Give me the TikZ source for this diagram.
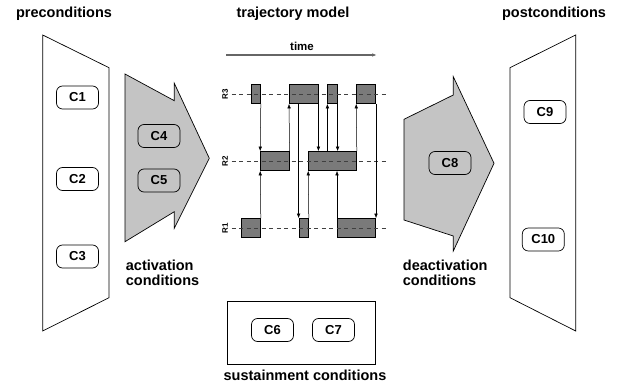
\documentclass[tikz,border=0pt]{standalone}
\usepackage{fontspec}
\setmainfont{Liberation Sans}
\usetikzlibrary{arrows.meta}

\tikzset{
  cond/.style={draw, rounded corners=6pt, minimum width=42pt, minimum height=23pt,
    inner sep=0pt, line width=0.7pt, font=\fontsize{13}{13}\selectfont\bfseries},
  bar/.style={draw, fill=black!52, line width=0.6pt, minimum height=19pt, inner sep=0pt},
  level/.style={dash pattern=on 4pt off 3.5pt, line width=0.7pt, black!75},
  heading/.style={font=\fontsize{14.5}{14.5}\selectfont\bfseries, inner sep=0pt},
  trans/.style={-{Latex[length=4.5pt,width=3.5pt]}, line width=0.5pt},
  stage/.style={draw, line width=0.7pt},
  gate/.style={draw, fill=black!23, line width=0.7pt},
}

\begin{document}
\begin{tikzpicture}[x=1pt,y=-1pt]
        \useasboundingbox (0,0) rectangle (618,387);

        % Headings
        \node[heading, anchor=base] (pre) at (64,17.5) {preconditions};
        \node[heading, anchor=base] (traj) at (293,17.5) {trajectory model};
        \node[heading, anchor=base] (post) at (554,17.5) {postconditions};

        % Pre- and postcondition panels
        \draw[stage] (42.7,35) -- (109,67.7) -- (109,297.7) -- (42.7,331) -- cycle;
        \draw[stage] (575.7,35) -- (510,67.7) -- (510,297.7) -- (575.7,331) -- cycle;

        % Activation and deactivation arrows
        \draw[gate] (125,74) -- (174.3,100.7) -- (174.3,83.3) -- (209.3,158.3)
          -- (174.3,228.3) -- (174.3,211.7) -- (125,241.7) -- cycle;
        \draw[gate] (404,119.3) -- (453.3,95) -- (453.3,76.7) -- (494,163.3)
          -- (453.3,251) -- (453.3,236) -- (404,220) -- cycle;

        \node[heading, anchor=north west, align=left] (act) at (125.7,260) {activation\\conditions};
        \node[heading, anchor=north west, align=left] (deact) at (402.7,260) {deactivation\\conditions};

        % Conditions
        \node[cond] (c1) at (77.5,97.5) {C1};
        \node[cond] (c2) at (77.5,179) {C2};
        \node[cond] (c3) at (77.5,256.5) {C3};
        \node[cond] (c4) at (159,136) {C4};
        \node[cond] (c5) at (159,180.5) {C5};
        \node[cond] (c8) at (450,163) {C8};
        \node[cond] (c9) at (545,112) {C9};
        \node[cond] (c10) at (543.3,239.5) {C10};

        % Sustainment box
        \draw[stage] (227.3,301.7) rectangle (375,364.3);
        \node[cond] (c6) at (272.5,330) {C6};
        \node[cond] (c7) at (333.5,330) {C7};
        \node[heading, anchor=base] (sust) at (305,380) {sustainment conditions};

        % Time axis
        \draw[-{Latex[length=5pt,width=3.5pt]}, line width=1.3pt, black!60] (226,55) -- (377,55);
        \node[font=\fontsize{11.5}{11.5}\selectfont\bfseries, inner sep=0pt] (time) at (302,46) {time};

        % Bars
        \node[bar, minimum width=9.6pt] (r3a) at (255.7,94) {};
        \node[bar, minimum width=28.8pt] (r3b) at (303.7,94) {};
        \node[bar, minimum width=9.6pt] (r3c) at (332.5,94) {};
        \node[bar, minimum width=19.2pt] (r3d) at (366.1,94) {};
        \node[bar, minimum width=28.8pt] (r2a) at (274.9,161) {};
        \node[bar, minimum width=48pt] (r2b) at (332.5,161) {};
        \node[bar, minimum width=19.2pt] (r1a) at (250.9,228) {};
        \node[bar, minimum width=9.6pt] (r1b) at (303.7,228) {};
        \node[bar, minimum width=38.4pt] (r1c) at (356.5,228) {};

        % Levels
        \node[rotate=90, font=\fontsize{8}{8}\selectfont\bfseries, inner sep=0pt] (l3) at (225,94) {R3};
        \node[rotate=90, font=\fontsize{8}{8}\selectfont\bfseries, inner sep=0pt] (l2) at (225,161) {R2};
        \node[rotate=90, font=\fontsize{8}{8}\selectfont\bfseries, inner sep=0pt] (l1) at (225,228) {R1};
        \draw[level] (231.7,94) -- (386,94);
        \draw[level] (231.7,161) -- (386,161);
        \draw[level] (231.7,228) -- (386,228);

        % Transitions
        \draw[trans] (r3a.south east) -- (r2a.north west);
        \draw[trans] (r1a.north east) -- (r2a.south west);
        \draw[trans] (r2a.north east) -- (r3b.south west);
        \draw[trans] (r1b.north west |- r3b.south) -- (r1b.north west);
        \draw[trans] (r1b.north east) -- (r2b.south west);
        \draw[trans] (r3b.south east) -- (r3b.south east |- r2b.north);
        \draw[trans] (r3c.south west |- r2b.north) -- (r3c.south west);
        \draw[trans] (r3c.south east) -- (r3c.south east |- r2b.north);
        \draw[trans] (r1c.north west) -- (r1c.north west |- r2b.south);
        \draw[trans] (r2b.north east) -- (r3d.south west);
        \draw[trans] (r3d.south east) -- (r1c.north east);

    \end{tikzpicture}
\end{document}
